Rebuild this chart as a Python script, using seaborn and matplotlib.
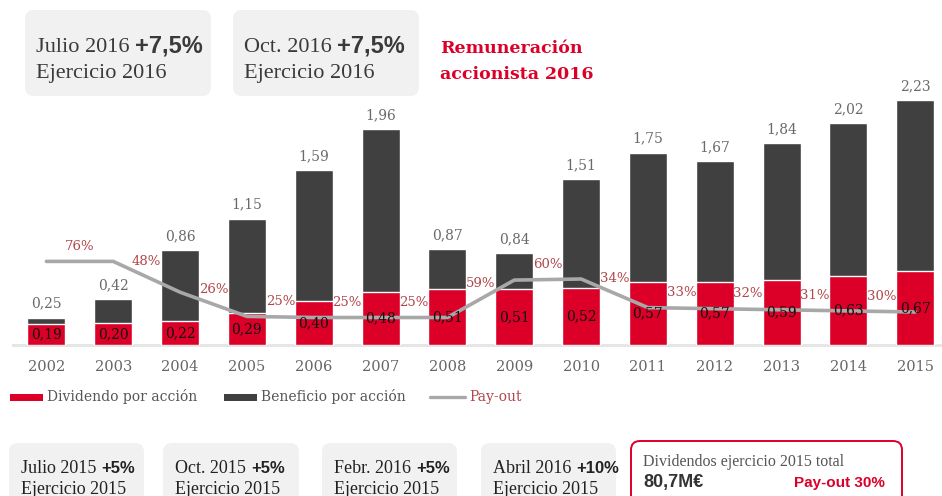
import numpy as np
import matplotlib
matplotlib.use("Agg")
import matplotlib.pyplot as plt
import seaborn as sns
from matplotlib.patches import FancyBboxPatch, Rectangle
from matplotlib.lines import Line2D

years = [2002, 2003, 2004, 2005, 2006, 2007, 2008,
         2009, 2010, 2011, 2012, 2013, 2014, 2015]
beneficio = [0.25, 0.42, 0.86, 1.15, 1.59, 1.96, 0.87,
             0.84, 1.51, 1.75, 1.67, 1.84, 2.02, 2.23]
dividendo = [0.19, 0.20, 0.22, 0.29, 0.40, 0.48, 0.51,
             0.51, 0.52, 0.57, 0.57, 0.59, 0.63, 0.67]
# pay-out line as drawn (labels sit between bars)
payout = [76, 76, 48, 26, 25, 25, 25, 59, 60, 34, 33, 32, 31, 30]

legend_labels = ["Dividendo por acción", "Beneficio por acción", "Pay-out"]

top_boxes = [("Julio 2016", "+7,5%", "Ejercicio 2016"),
             ("Oct. 2016", "+7,5%", "Ejercicio 2016")]
bottom_boxes = [("Julio 2015", "+5%", "Ejercicio 2015"),
                ("Oct. 2015", "+5%", "Ejercicio 2015"),
                ("Febr. 2016", "+5%", "Ejercicio 2015"),
                ("Abril 2016", "+10%", "Ejercicio 2015")]
titulo = "Remuneración\naccionista 2016"
total_txt = "Dividendos ejercicio 2015 total"
total_val = "80,7M€"
total_payout = "Pay-out 30%"

RED = "#dc0028"
DARK = "#404040"
LINE = "#a8a8a8"
PCT = "#b0474a"
BOXBG = "#f1f1f1"

sns.set_theme(style="white")
plt.rcParams["font.family"] = ["DejaVu Serif", "DejaVu Sans"]

fig = plt.figure(figsize=(9.42, 4.96), dpi=100)
W, H = 942, 496

ax = fig.add_axes([13 / W, (H - 345) / H, 929 / W, 286 / H])

sns.barplot(x=years, y=beneficio, native_scale=True, width=0.57,
            color=DARK, saturation=1, errorbar=None, ax=ax, zorder=2)
sns.barplot(x=years, y=dividendo, native_scale=True, width=0.57,
            color=RED, saturation=1, errorbar=None, ax=ax, zorder=2)
sns.lineplot(x=years, y=np.array(payout) / 100, color=LINE, lw=2.6,
             ax=ax, zorder=3)

def fmt(v):
    return f"{v:.2f}".replace(".", ",")

for yr, b, d in zip(years, beneficio, dividendo):
    ax.annotate(fmt(b), (yr, b), xytext=(0, 7), textcoords="offset points",
                ha="center", va="baseline", fontsize=10, color="#6a6a6a")
    ax.text(yr, d / 2, fmt(d), ha="center", va="center", fontsize=10,
            color="#111111", zorder=5)

for i in range(1, len(years)):
    xm = (years[i - 1] + years[i]) / 2
    ym = (payout[i - 1] + payout[i]) / 200
    ax.annotate(f"{payout[i]}%", (xm, ym), xytext=(0, 11),
                textcoords="offset points", ha="center", va="center",
                fontsize=9.5, color=PCT, zorder=5)

ax.set_xlim(2001.5, 2015.4)
ax.set_ylim(0, 2.6)
ax.set_yticks([])
ax.set_xticks(years)
ax.set_xticklabels([str(y) for y in years], fontsize=10.5, color="#666666")
ax.tick_params(axis="x", length=0, pad=11)
ax.set_xlabel("")
ax.set_ylabel("")
for s in ["top", "left", "right"]:
    ax.spines[s].set_visible(False)
ax.spines["bottom"].set_color("#e6e6e6")
ax.spines["bottom"].set_linewidth(2.2)
ax.spines["bottom"].set_zorder(1)

# overlay in pixel coordinates for boxes and legend
ov = fig.add_axes([0, 0, 1, 1])
ov.set_xlim(0, W)
ov.set_ylim(H, 0)
ov.axis("off")
ov.patch.set_visible(False)
renderer = fig.canvas.get_renderer()

def box(x0, y0, x1, y1, fc, ec="none", lw=0):
    ov.add_patch(FancyBboxPatch((x0, y0), x1 - x0, y1 - y0,
                                boxstyle="round,pad=0,rounding_size=9",
                                fc=fc, ec=ec, lw=lw))

def two_part(x, y, reg, bold, rsize, bsize, color):
    t = ov.text(x, y, reg, fontsize=rsize, color=color, va="baseline",
                family="Liberation Serif")
    w = t.get_window_extent(renderer).width
    ov.text(x + w + 5, y, bold, fontsize=bsize, color=color, va="baseline",
            family="Liberation Sans", fontweight="bold")

# top boxes
for (a, b, c), (x0, x1) in zip(top_boxes, [(25, 211), (233, 419)]):
    box(x0, 10, x1, 96, BOXBG)
    two_part(x0 + 11, 52, a, b, 16, 17, "#3a3a3a")
    ov.text(x0 + 11, 78, c, fontsize=16, color="#3a3a3a", va="baseline",
            family="Liberation Serif")

ov.text(440, 53, titulo.split("\n")[0], fontsize=12.5, color=RED,
        fontweight="bold", va="baseline")
ov.text(440, 79, titulo.split("\n")[1], fontsize=12.5, color=RED,
        fontweight="bold", va="baseline")

# legend
ov.add_patch(Rectangle((10, 394), 33, 7, fc=RED, ec="none"))
ov.text(47, 397, legend_labels[0], fontsize=10, color="#555555", va="center")
ov.add_patch(Rectangle((224, 394), 33, 7, fc=DARK, ec="none"))
ov.text(261, 397, legend_labels[1], fontsize=10, color="#555555", va="center")
ov.add_line(Line2D([430, 465], [397, 397], color=LINE, lw=2.4))
ov.text(469, 397, legend_labels[2], fontsize=10, color=PCT, va="center")

# bottom boxes (cut by the lower edge, as in the source)
for (a, b, c), (x0, x1) in zip(bottom_boxes,
                               [(9, 144), (163, 299), (322, 457), (481, 616)]):
    box(x0, 443, x1, 520, BOXBG)
    two_part(x0 + 12, 473, a, b, 13, 12, "#222222")
    ov.text(x0 + 12, 494, c, fontsize=13, color="#222222", va="baseline",
            family="Liberation Serif")

box(631, 441, 902, 520, "white", ec=RED, lw=1.4)
ov.text(643, 466, total_txt, fontsize=11.5, color="#555555", va="baseline",
        family="Liberation Serif")
ov.text(643, 487, total_val, fontsize=13, color="#333333", va="baseline",
        family="Liberation Sans", fontweight="bold")
ov.text(885, 487, total_payout, fontsize=11, color=RED, va="baseline",
        ha="right", family="Liberation Sans", fontweight="bold")

fig.savefig("out.png", dpi=100, facecolor="white")
